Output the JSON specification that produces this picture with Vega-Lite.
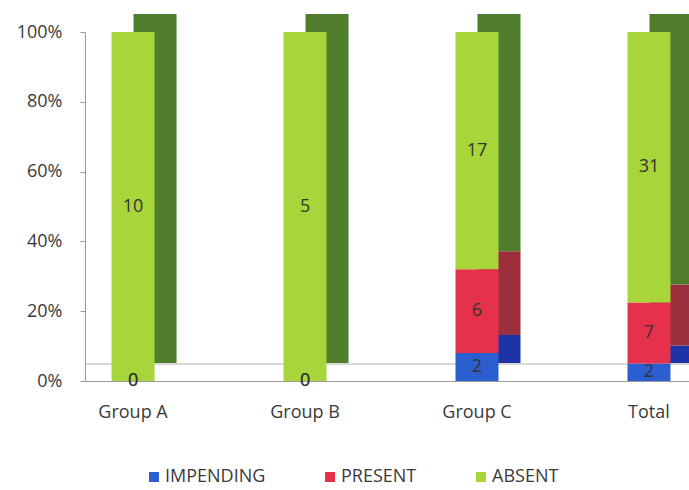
{
  "$schema": "https://vega.github.io/schema/vega-lite/v6.json",
  "width": 604,
  "height": 349,
  "autosize": "none",
  "padding": {"left": 85, "top": 32, "right": 0, "bottom": 109},
  "background": "white",
  "config": {
    "view": {"stroke": null},
    "font": "Open Sans",
    "axis": {"labelFont": "Open Sans", "labelFontSize": 18, "labelColor": "#3a3a3a", "domainColor": "#9a9a9a", "tickColor": "#9a9a9a", "grid": false, "title": null}
  },
  "data": {
    "values": [
      {"group": "Group A", "status": "IMPENDING", "rank": 1, "count": 0},
      {"group": "Group A", "status": "PRESENT", "rank": 2, "count": 0},
      {"group": "Group A", "status": "ABSENT", "rank": 3, "count": 10},
      {"group": "Group B", "status": "IMPENDING", "rank": 1, "count": 0},
      {"group": "Group B", "status": "PRESENT", "rank": 2, "count": 0},
      {"group": "Group B", "status": "ABSENT", "rank": 3, "count": 5},
      {"group": "Group C", "status": "IMPENDING", "rank": 1, "count": 2},
      {"group": "Group C", "status": "PRESENT", "rank": 2, "count": 6},
      {"group": "Group C", "status": "ABSENT", "rank": 3, "count": 17},
      {"group": "Total", "status": "IMPENDING", "rank": 1, "count": 2},
      {"group": "Total", "status": "PRESENT", "rank": 2, "count": 7},
      {"group": "Total", "status": "ABSENT", "rank": 3, "count": 31}
    ]
  },
  "layer": [
    {
      "data": {"values": [{"base": 0}]},
      "mark": {"type": "rule", "yOffset": -17, "color": "#b0b0b0", "strokeWidth": 1},
      "encoding": {
        "y": {"field": "base", "type": "quantitative"}
      }
    },
    {
      "mark": {"type": "bar", "xOffset": 22, "yOffset": -18},
      "encoding": {
        "x": {
          "field": "group", "type": "nominal", "sort": null,
          "scale": {"paddingInner": 0.75, "paddingOuter": 0.131, "align": 0.589},
          "axis": {"labelAngle": 0, "ticks": false, "labelPadding": 22, "domainColor": "#9a9a9a"}
        },
        "y": {"field": "count", "type": "quantitative", "stack": "normalize", "scale": {"domain": [0, 1]},
              "axis": {"format": ".0%", "values": [0, 0.2, 0.4, 0.6, 0.8, 1], "tickSize": 5, "labelPadding": 18}},
        "order": {"field": "rank", "type": "quantitative"},
        "fill": {"field": "status", "type": "nominal", "legend": null,
                 "scale": {"domain": ["IMPENDING", "PRESENT", "ABSENT"], "range": ["#1e34a6", "#9c2f3d", "#4f7d2c"]}}
      }
    },
    {
      "mark": {"type": "bar"},
      "encoding": {
        "x": {"field": "group", "type": "nominal", "sort": null},
        "y": {"field": "count", "type": "quantitative", "stack": "normalize"},
        "order": {"field": "rank", "type": "quantitative"},
        "color": {"field": "status", "type": "nominal",
                  "scale": {"domain": ["IMPENDING", "PRESENT", "ABSENT"], "range": ["#2b5fd0", "#e5324a", "#a8d63a"]},
                  "legend": {"title": null, "orient": "none", "direction": "horizontal", "legendX": 60, "legendY": 436,
                             "symbolType": "square", "symbolSize": 100, "symbolStrokeWidth": 0, "labelFontSize": 18,
                             "labelColor": "#3a3a3a", "labelFont": "Open Sans", "columnPadding": 55, "labelOffset": 2}}
      }
    },
    {
      "transform": [
        {"stack": "count", "groupby": ["group"], "as": ["y0", "y1"], "offset": "normalize", "sort": [{"field": "rank"}]},
        {"calculate": "(datum.y0 + datum.y1) / 2", "as": "mid"}
      ],
      "mark": {"type": "text", "fontSize": 18, "color": "#333333", "font": "Open Sans"},
      "encoding": {
        "x": {"field": "group", "type": "nominal", "sort": null},
        "y": {"field": "mid", "type": "quantitative"},
        "text": {"field": "count", "type": "quantitative"}
      }
    }
  ],
  "resolve": {"scale": {"color": "independent", "fill": "independent"}}
}
